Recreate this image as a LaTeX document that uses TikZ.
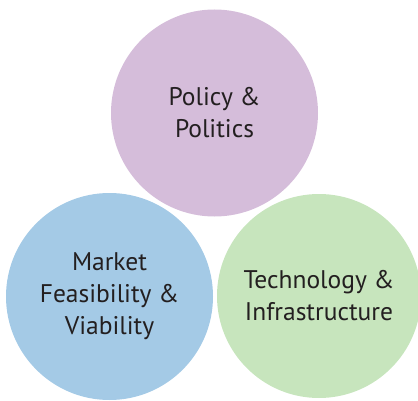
\documentclass[tikz,border=0pt]{standalone}
\usepackage{fontspec}
\setmainfont{PT Sans}
\definecolor{cpurple}{HTML}{D5BDDA}
\definecolor{cblue}{HTML}{A4CAE6}
\definecolor{cgreen}{HTML}{C7E5BD}
\definecolor{ctext}{HTML}{231F20}
\begin{document}
\begin{tikzpicture}[x=1pt,y=1pt,
  bubble/.style={circle,inner sep=0pt,minimum size=207pt},
  lbl/.style={align=center,text=ctext,font=\fontsize{25.5}{32}\selectfont}]
\useasboundingbox (0,0) rectangle (418,400);
\node[bubble,fill=cpurple] (pol) at (214.5,287) {};
\node[bubble,fill=cblue] (mkt) at (109.5,103.5) {};
\node[bubble,fill=cgreen,minimum size=204pt] (tech) at (319,104) {};
\node[lbl] (tpol) at (pol) {Policy \&\\Politics};
\node[lbl] (tmkt) at (mkt) {Market\\Feasibility \&\\Viability};
\node[lbl] (ttech) at (tech) {Technology \&\\Infrastructure};
\end{tikzpicture}
\end{document}
